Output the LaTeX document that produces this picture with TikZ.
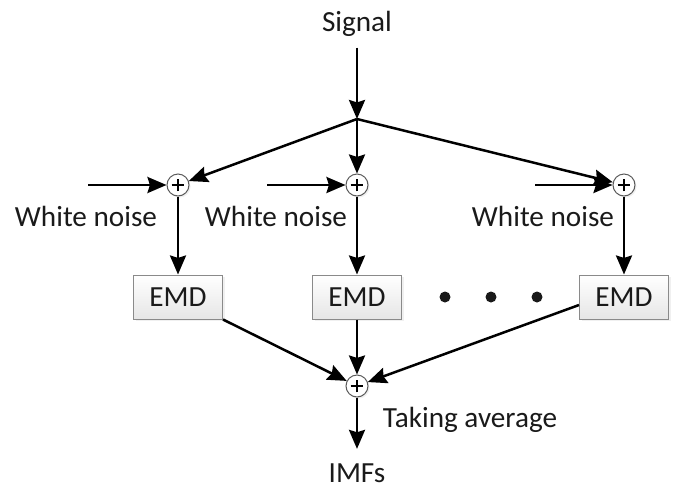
\documentclass[tikz,border=0pt]{standalone}
\usepackage{fontspec}
\setmainfont{Carlito}
\usepackage{xcolor}
\usepackage{tikz}
\usetikzlibrary{arrows.meta, positioning, calc, shadows}
\definecolor{box-gray}{HTML}{8A8A8A}
\definecolor{box-fill}{HTML}{E6E6E6}
\definecolor{adder-gray}{HTML}{5A5A5A}
\definecolor{text-dark}{HTML}{1A1A1A}

\begin{document}
\begin{tikzpicture}[
    x=0.5pt, y=-0.5pt,
    font=\fontsize{14.6}{17}\selectfont\color{text-dark},
    emd/.style={rectangle, draw=box-gray, line width=0.5pt, top color=white, bottom color=box-fill, minimum width=44.5pt, minimum height=22pt, inner sep=0pt, drop shadow={opacity=0.12, shadow xshift=1pt, shadow yshift=-1pt}},
    adder/.style={circle, draw=adder-gray, line width=0.5pt, fill=white, minimum size=11pt, inner sep=0pt, drop shadow={opacity=0.12, shadow xshift=0.8pt, shadow yshift=-0.8pt},
        path picture={\draw[line width=0.7pt, black] ([xshift=-3.2pt]path picture bounding box.center) -- ([xshift=3.2pt]path picture bounding box.center) ([yshift=-3.2pt]path picture bounding box.center) -- ([yshift=3.2pt]path picture bounding box.center);}},
    dot/.style={circle, fill=black!90, minimum size=5.5pt, inner sep=0pt},
    arrow/.style={-{Stealth[length=9.5pt, width=8pt, inset=1.2pt]}, line width=1.25pt, black}
]
    \useasboundingbox (0,0) rectangle (676,489);

    \node (signal) at (357,24) {Signal};
    \coordinate (split) at (357,119);

    % three branches
    \node[adder] (add1) at (178,185) {};
    \node[adder] (add2) at (357,185) {};
    \node[adder] (add3) at (624,185) {};

    \coordinate (noise1) at (88,185);
    \coordinate (noise2) at (267,185);
    \coordinate (noise3) at (535,185);

    \node (wn1) at (86,216) {White noise};
    \node (wn2) at (276,216) {White noise};
    \node (wn3) at (543,216) {White noise};

    \node[emd] (emd1) at (178,297) {EMD};
    \node[emd] (emd2) at (357,297) {EMD};
    \node[emd] (emd3) at (624,297) {EMD};

    \node[dot] (d1) at (445,297) {};
    \node[dot] (d2) at (491,297) {};
    \node[dot] (d3) at (537,297) {};

    % averaging
    \node[adder] (avg) at (357,386) {};
    \node (avgtext) at (470,420) {Taking average};
    \node[anchor=base, inner sep=1pt] (imfs) at (357,482) {IMFs};

    \draw[arrow, shorten <=2pt] (signal) -- (split);
    \draw[arrow] (split) -- (add1);
    \draw[arrow] (split) -- (add2);
    \draw[arrow] (split) -- (add3);

    \draw[arrow] (noise1) -- (add1);
    \draw[arrow] (noise2) -- (add2);
    \draw[arrow] (noise3) -- (add3);

    \draw[arrow] (add1) -- (emd1);
    \draw[arrow] (add2) -- (emd2);
    \draw[arrow] (add3) -- (emd3);

    \draw[arrow] (emd1.south east) -- (avg);
    \draw[arrow] (emd2) -- (avg);
    \draw[arrow] ([yshift=-4pt]emd3.west) -- (avg);
    \draw[arrow, shorten >=6pt] (avg) -- (imfs);
\end{tikzpicture}
\end{document}
